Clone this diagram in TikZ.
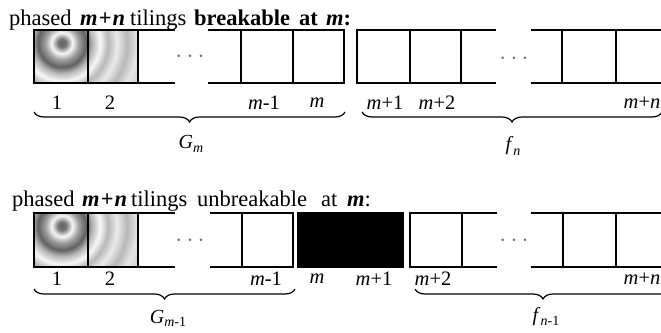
\documentclass[tikz,border=0pt]{standalone}
\usepackage{fontspec}
\setmainfont{Liberation Serif}
\usetikzlibrary{decorations.pathreplacing}
\pgfdeclareradialshading{rings}{\pgfpoint{0bp}{0bp}}{%
color(0bp)=(black!60);
color(1bp)=(black!55);
color(2.6bp)=(black!3);
color(4.2bp)=(black!38);
color(6bp)=(black!62);
color(7.6bp)=(black!28);
color(9.5bp)=(black!3);
color(11.5bp)=(black!28);
color(13.75bp)=(black!8);
color(16.25bp)=(black!28);
color(18.75bp)=(black!10);
color(22.5bp)=(black!22);
color(25bp)=(black!15)}
\begin{document}
\begin{tikzpicture}[x=1pt,y=-1pt,
  cell/.style={draw,line width=1.6pt,minimum height=53pt,inner sep=0pt,outer sep=0pt},
  lbl/.style={font=\fontsize{20.5}{20.5}\selectfont,inner sep=0pt},
  sublbl/.style={font=\fontsize{20}{20}\selectfont,inner sep=0pt},
  ttl/.style={font=\fontsize{22.5}{22.5}\selectfont,anchor=base west,inner sep=0pt},
  stub/.style={line width=1.6pt},
  dotsn/.style={text=black!55,font=\fontsize{24}{24}\selectfont,inner sep=0pt},
  brc/.style={decorate,decoration={brace,amplitude=10pt,mirror},line width=1.2pt}]
\useasboundingbox (0,0) rectangle (661,332);
\clip (0,0) rectangle (661,332);
% titles (one node per word, placed as printed)
\node[ttl] (t1a) at (9,25.5) {phased};
\node[ttl] (t1b) at (80,25.5) {\textbf{\textit{m\kern1pt+\kern1pt n}}};
\node[ttl] (t1c) at (130,25.5) {tilings};
\node[ttl] (t1d) at (194,25.5) {\textbf{breakable}};
\node[ttl] (t1e) at (299,25.5) {\textbf{at}};
\node[ttl] (t1f) at (326,25.5) {\textbf{\textit{m}:}};
\node[ttl] (t2a) at (12,206) {phased};
\node[ttl] (t2b) at (82,206) {\textbf{\textit{m\kern1pt+\kern1pt n}}};
\node[ttl] (t2c) at (131,206) {tilings};
\node[ttl] (t2d) at (197,206) {unbreakable};
\node[ttl] (t2e) at (321,206) {at};
\node[ttl] (t2f) at (347,206) {\textbf{\textit{m}}:};
% ---------- top row ----------
\begin{scope}
\clip (34,30) rectangle (138,83);
\shade[shading=rings] (62,43) circle (100);
\end{scope}
\node[cell,minimum width=54pt] (a1) at (61,56.5) {};
\node[cell,minimum width=50pt] (a2) at (113,56.5) {};
\node[cell,minimum width=52pt] (a3) at (267,56.5) {};
\node[cell,minimum width=51pt] (a4) at (318.5,56.5) {};
\node[cell,minimum width=53pt] (a5) at (383.5,56.5) {};
\node[cell,minimum width=51pt] (a6) at (435.5,56.5) {};
\node[cell,minimum width=54pt] (a7) at (589,56.5) {};
\node[cell,minimum width=54pt] (a8) at (643,56.5) {};
\coordinate (p1t) at (175,30); \coordinate (p1b) at (175,83);
\coordinate (p2t) at (208,30); \coordinate (p2b) at (208,83);
\coordinate (p3t) at (496,30); \coordinate (p3b) at (496,83);
\coordinate (p4t) at (531,30); \coordinate (p4b) at (531,83);
\draw[stub] (a2.north east) -- (p1t);
\draw[stub] (a2.south east) -- (p1b);
\draw[stub] (p2t) -- (a3.north west);
\draw[stub] (p2b) -- (a3.south west);
\draw[stub] (a6.north east) -- (p3t);
\draw[stub] (a6.south east) -- (p3b);
\draw[stub] (p4t) -- (a7.north west);
\draw[stub] (p4b) -- (a7.south west);
\node[dotsn] (d1) at (190,57) {$\cdots$};
\node[dotsn] (d2) at (514,59) {$\cdots$};
\node[lbl] (l1) at (57,103) {1};
\node[lbl] (l2) at (110,103) {2};
\node[lbl] (l3) at (264,103) {\textit{m}-1};
\node[lbl] (l4) at (317,103) {\textit{m}};
\node[lbl] (l5) at (385,103) {\textit{m}+1};
\node[lbl] (l6) at (437,103) {\textit{m}+2};
\node[lbl] (l7) at (642,103) {\textit{m}+\textit{n}};
\coordinate (b1l) at (34,112); \coordinate (b1r) at (345,112);
\coordinate (b2l) at (362,112); \coordinate (b2r) at (662,112);
\draw[brc] (b1l) -- (b1r);
\draw[brc] (b2l) -- (b2r);
\node[sublbl] (gm) at (191,144) {\textit{G}\raisebox{-0.45ex}{\fontsize{14}{14}\selectfont\textit{m}}};
\node[sublbl] (fn) at (513,146) {\textit{f}\raisebox{-0.45ex}{\fontsize{14}{14}\selectfont\textit{n}}};
% ---------- bottom row ----------
\begin{scope}
\clip (34,213) rectangle (138,267);
\shade[shading=rings] (62,226) circle (100);
\end{scope}
\node[cell,minimum height=54pt,minimum width=54pt] (c1) at (61,240) {};
\node[cell,minimum height=54pt,minimum width=50pt] (c2) at (113,240) {};
\node[cell,minimum height=54pt,minimum width=51pt] (c3) at (267.5,240) {};
\node[cell,minimum height=54pt,minimum width=105pt,fill=black] (c4) at (350.5,240) {};
\node[cell,minimum height=54pt,minimum width=52pt] (c5) at (436,240) {};
\node[cell,minimum height=54pt,minimum width=53pt] (c6) at (589.5,240) {};
\node[cell,minimum height=54pt,minimum width=54pt] (c7) at (643,240) {};
\coordinate (q1t) at (175,213); \coordinate (q1b) at (175,267);
\coordinate (q2t) at (210,213); \coordinate (q2b) at (210,267);
\coordinate (q3t) at (497,213); \coordinate (q3b) at (497,267);
\coordinate (q4t) at (531,213); \coordinate (q4b) at (531,267);
\draw[stub] (c2.north east) -- (q1t);
\draw[stub] (c2.south east) -- (q1b);
\draw[stub] (q2t) -- (c3.north west);
\draw[stub] (q2b) -- (c3.south west);
\draw[stub] (c5.north east) -- (q3t);
\draw[stub] (c5.south east) -- (q3b);
\draw[stub] (q4t) -- (c6.north west);
\draw[stub] (q4b) -- (c6.south west);
\node[dotsn] (e1) at (190,241) {$\cdots$};
\node[dotsn] (e2) at (514,241) {$\cdots$};
\node[lbl] (k1) at (57,279) {1};
\node[lbl] (k2) at (110,279) {2};
\node[lbl] (k3) at (266,279) {\textit{m}-1};
\node[lbl] (k4) at (317,279) {\textit{m}};
\node[lbl] (k5) at (374,279) {\textit{m}+1};
\node[lbl] (k6) at (433,279) {\textit{m}+2};
\node[lbl] (k7) at (642,279) {\textit{m}+\textit{n}};
\coordinate (b3l) at (34,289); \coordinate (b3r) at (295,289);
\coordinate (b4l) at (415,289); \coordinate (b4r) at (671,289);
\draw[brc] (b3l) -- (b3r);
\draw[brc] (b4l) -- (b4r);
\node[sublbl] (gm1) at (168,318.5) {\textit{G}\raisebox{-0.4ex}{\fontsize{14}{14}\selectfont\textit{m}-1}};
\node[sublbl] (fn1) at (546,317) {\textit{f}\raisebox{-0.4ex}{\fontsize{14}{14}\selectfont\textit{n}-1}};
\end{tikzpicture}
\end{document}
